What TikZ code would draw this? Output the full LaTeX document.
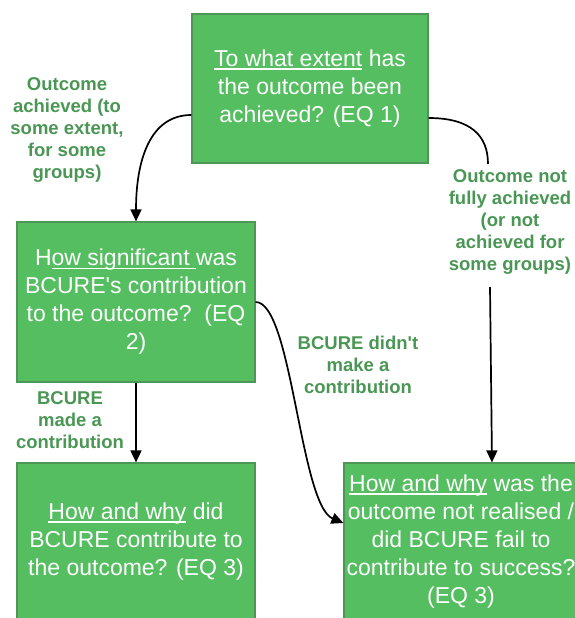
\documentclass[tikz,border=0pt]{standalone}
\usepackage{fontspec}
\setmainfont{Liberation Sans}
\usetikzlibrary{arrows.meta,calc}
\definecolor{boxfill}{RGB}{84,190,96}
\definecolor{boxline}{RGB}{78,150,86}
\definecolor{lblgreen}{RGB}{74,150,84}
\newcommand\qul[1]{\setbox0\hbox{#1}\rlap{\rule[-3.2pt]{\wd0}{1.2pt}}\box0\relax}
\begin{document}
\begin{tikzpicture}[x=1pt,y=-1pt,
  qbox/.style={draw=boxline,line width=1.2pt,fill=boxfill,text=white,align=center,
    font=\fontsize{23}{28}\selectfont,inner sep=0pt},
  lbl/.style={text=lblgreen,align=center,font=\fontsize{18.5}{22}\selectfont\bfseries,inner sep=0pt},
  conn/.style={line width=1.7pt,black},
  arr/.style={conn,-{Triangle[length=12pt,width=11pt]}}]
\useasboundingbox (0,0) rectangle (574,618);
\node[qbox,minimum width=236pt,minimum height=149pt] (q1) at (310,88.5)
  {\qul{To what extent} has\\the outcome been\\achieved? (EQ 1)};
\node[qbox,minimum width=238pt,minimum height=160pt] (q2) at (136,302)
  {H\qul{ow significant }was\\BCURE\textquotesingle s contribution\\to the outcome?\ \ (EQ\\2)};
\node[qbox,minimum width=238pt,minimum height=157pt] (q3) at (136,541.5)
  {\qul{How and why} did\\BCURE contribute to\\the outcome? (EQ 3)};
\node[qbox,minimum width=234pt,minimum height=157pt] (q4) at (461,541.5)
  {\qul{How and why} was the\\outcome not realised /\\did BCURE fail to\\contribute to success?\\(EQ 3)};
\node[lbl] (l1) at (67,130) {Outcome\\achieved (to\\some extent,\\for some\\groups)};
\node[lbl] (l2) at (510,222) {Outcome not\\fully achieved\\(or not\\achieved for\\some groups)};
\node[lbl] (l3) at (358,365) {BCURE didn\textquotesingle t\\make a\\contribution};
\node[lbl] (l4) at (70,420) {BCURE\\made a\\contribution};
\coordinate (k1) at (488,164);
\coordinate (k2) at (490,287);
\draw[arr] ([yshift=-26.5pt]q1.west) .. controls (150,115) and (136,160) .. (q2.north);
\draw[conn] ([yshift=-29.5pt]q1.east) .. controls (470,118) and (488,135) .. (k1);
\draw[arr] (k2) -- ([xshift=31pt]q4.north);
\draw[arr] (q2.east) .. controls (292,302) and (300,505) .. ([yshift=18.5pt]q4.west);
\draw[arr] (q2.south) -- (q3.north);
\end{tikzpicture}
\end{document}
